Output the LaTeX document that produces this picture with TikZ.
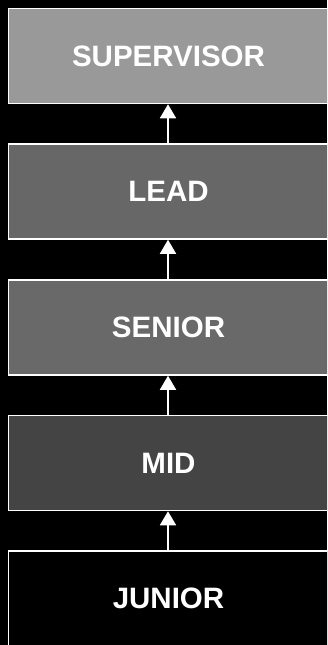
\documentclass[tikz,border=0pt]{standalone}
\usepackage{fontspec}
\setmainfont{Liberation Sans}
\usetikzlibrary{arrows.meta}
\definecolor{supc}{HTML}{999999}
\definecolor{leadc}{HTML}{676767}
\definecolor{senc}{HTML}{696969}
\definecolor{midc}{HTML}{444444}
\begin{document}
\begin{tikzpicture}[x=1pt,y=-1pt,
  levelbox/.style={draw=white,line width=1.5pt,minimum width=320pt,minimum height=95pt,inner sep=0pt,
    text=white,font=\fontsize{29.5}{29.5}\selectfont\bfseries},
  uparrow/.style={draw=white,line width=1.6pt,-{Triangle[width=16pt,length=14pt]}}]
\fill[black] (0,0) rectangle (327,645);
\useasboundingbox (0,0) rectangle (327,645);
\clip (0,0) rectangle (327,645);
\node[levelbox,fill=supc] (sup) at (168.5,56) {SUPERVISOR};
\node[levelbox,fill=leadc] (lead) at (168.5,191.5) {LEAD};
\node[levelbox,fill=senc] (sen) at (168.5,327.5) {SENIOR};
\node[levelbox,fill=midc] (mid) at (168.5,463) {MID};
\node[levelbox,fill=black] (jun) at (168.5,598.5) {JUNIOR};
\draw[uparrow] (lead.north -| 168,0) -- (sup.south -| 168,0);
\draw[uparrow] (sen.north -| 168,0) -- (lead.south -| 168,0);
\draw[uparrow] (mid.north -| 168,0) -- (sen.south -| 168,0);
\draw[uparrow] (jun.north -| 168,0) -- (mid.south -| 168,0);
\end{tikzpicture}
\end{document}
